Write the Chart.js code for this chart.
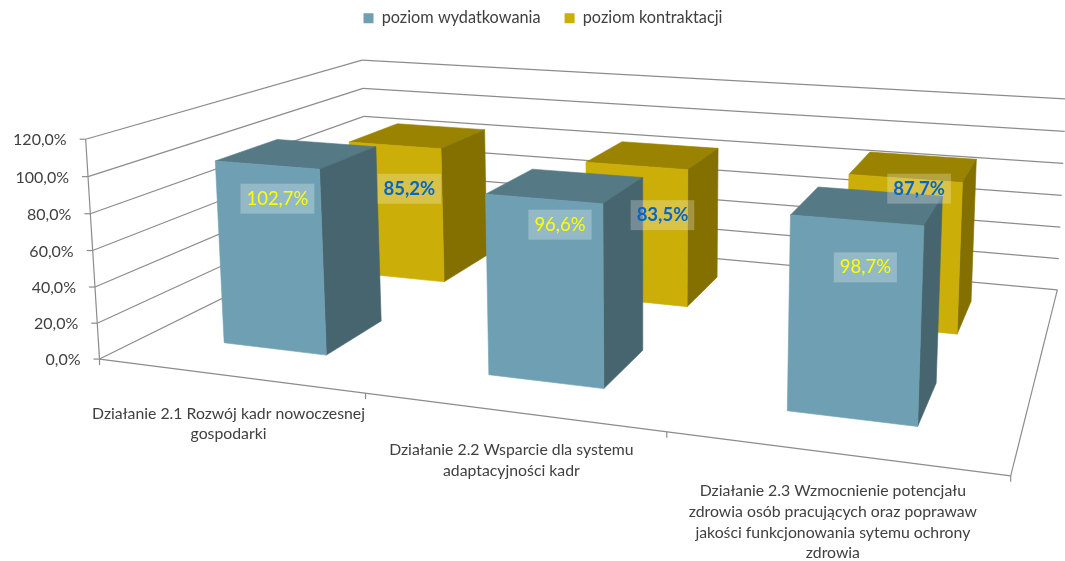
<!DOCTYPE html>
<html>
<head>
<meta charset="utf-8">
<style>
  html, body { margin: 0; padding: 0; background: #ffffff; }
  canvas { display: block; }
</style>
<script src="https://cdn.jsdelivr.net/npm/chart.js@4"></script>
</head>
<body>
<canvas id="chart" width="1065" height="561"></canvas>
<script>
const categories = [
  ["Działanie 2.1 Rozwój kadr nowoczesnej", "gospodarki"],
  ["Działanie 2.2 Wsparcie dla systemu", "adaptacyjności kadr"],
  ["Działanie 2.3 Wzmocnienie potencjału", "zdrowia osób pracujących oraz poprawaw", "jakości funkcjonowania sytemu ochrony", "zdrowia"],
];
const wydatkowanie = [102.7, 96.6, 98.7];
const kontraktacja = [85.2, 83.5, 87.7];

const FONT = "Lato, Carlito, sans-serif";
const GRID = "#8c8c8c";
const TEXT = "#404040";

// camera fit: box corners [u, v, w], where they land on screen, fit weight
const cameraAnchors = [
  [0, 0, 0, 101, 357, 1], [0, 1, 0, 83.5, 137, 1],
  [0, 0, 1, 365, 230, 1], [0, 1, 1, 365, 60, 1],
  [1, 0, 1, 1060, 289, 1], [1, 1, 1, 1063, 96, 1],
  [1, 0, 0, 1009, 474, 1], [1, 1, 0, 1027, 226, 0.7],
];

function solveCamera(anchors) {
  const rows = [];
  anchors.forEach(([u, v, w, sx, sy, k]) => {
    rows.push([u, v, w, 1, 0, 0, 0, 0, -sx * u, -sx * v, -sx * w, sx].map((c) => c * k));
    rows.push([0, 0, 0, 0, u, v, w, 1, -sy * u, -sy * v, -sy * w, sy].map((c) => c * k));
  });
  const n = 11;
  const m = [];
  for (let i = 0; i < n; i++) {
    m.push(new Array(n + 1).fill(0));
    for (let j = 0; j <= n; j++) {
      rows.forEach((r) => { m[i][j] += r[i] * r[j]; });
    }
  }
  for (let i = 0; i < n; i++) {
    let best = i;
    for (let k = i + 1; k < n; k++) {
      if (Math.abs(m[k][i]) > Math.abs(m[best][i])) best = k;
    }
    [m[i], m[best]] = [m[best], m[i]];
    for (let k = 0; k < n; k++) {
      if (k === i) continue;
      const f = m[k][i] / m[i][i];
      for (let j = i; j <= n; j++) m[k][j] -= f * m[i][j];
    }
  }
  return m.map((r, i) => r[n] / r[i]);
}

const cam = solveCamera(cameraAnchors);

function project(u, v, w) {
  const d = cam[8] * u + cam[9] * v + cam[10] * w + 1;
  return {
    x: (cam[0] * u + cam[1] * v + cam[2] * w + cam[3]) / d,
    y: (cam[4] * u + cam[5] * v + cam[6] * w + cam[7]) / d,
  };
}

function line(ctx, a, b) {
  ctx.beginPath();
  ctx.moveTo(a.x, a.y);
  ctx.lineTo(b.x, b.y);
  ctx.stroke();
}

function quad(ctx, pts, color) {
  ctx.fillStyle = color;
  ctx.strokeStyle = color;
  ctx.lineWidth = 0.6;
  ctx.beginPath();
  pts.forEach((p, i) => (i ? ctx.lineTo(p.x, p.y) : ctx.moveTo(p.x, p.y)));
  ctx.closePath();
  ctx.fill();
  ctx.stroke();
}

const seriesFaces = [
  { front: "#6e9fb2", top: "#557985", side: "#47656f", label: "#ffff00", weight: "400", depth: [0.15, 0.36] },
  { front: "#cbae07", top: "#9a8300", side: "#837000", label: "#0066cc", weight: "700", depth: [0.64, 0.86] },
];
// hand-moved data labels, px from the top centre of each bar
const labelOffsets = [
  [[-20, 45], [-6, 39], [-3, 62]],
  [[-9, 53], [9, 60], [5, 22]],
];

const box3d = {
  id: "box3d",
  beforeDatasetsDraw(chart) {
    const ctx = chart.ctx;
    const xs = chart.scales.x;
    const ys = chart.scales.y;
    const toV = (val) => (ys.bottom - ys.getPixelForValue(val)) / ys.height;
    const toU = (px) => (px - xs.left) / xs.width;

    ctx.save();
    ctx.strokeStyle = GRID;
    ctx.lineWidth = 1.2;
    ctx.lineJoin = "round";

    // walls + floor
    ys.ticks.forEach((t) => {
      const v = toV(t.value);
      const a = project(0, v, 0);
      const b = project(0, v, 1);
      const c = project(1, v, 1);
      line(ctx, a, b);
      line(ctx, b, c);
      line(ctx, { x: a.x - 6, y: a.y }, a);
      ctx.fillStyle = TEXT;
      ctx.font = "16px " + FONT;
      ctx.textAlign = "right";
      ctx.textBaseline = "middle";
      ctx.fillText(t.value.toFixed(1).replace(".", ",") + "%", a.x - 19, a.y + 1);
    });
    line(ctx, project(0, 0, 0), project(0, 1, 0));
    line(ctx, project(0, 0, 0), project(1, 0, 0));
    line(ctx, project(1, 0, 0), project(1, 0, 1));

    // category ticks + labels
    const n = xs.getLabels().length;
    for (let i = 0; i <= n; i++) {
      const p = project(i / n, 0, 0);
      line(ctx, p, { x: p.x, y: p.y + 6 });
    }
    ctx.fillStyle = TEXT;
    ctx.font = "15.8px " + FONT;
    ctx.textAlign = "center";
    xs.getLabels().forEach((lab, i) => {
      const p = project(toU(xs.getPixelForValue(i)), 0, 0);
      lab.forEach((txt, k) => ctx.fillText(txt, p.x, p.y + 38 + k * 20.7));
    });

    // bars, back row first
    const labels = [];
    for (let d = chart.data.datasets.length - 1; d >= 0; d--) {
      const face = seriesFaces[d];
      const [w0, w1] = face.depth;
      chart.getDatasetMeta(d).data.forEach((el, i) => {
        const u0 = toU(el.x - el.width / 2);
        const u1 = toU(el.x + el.width / 2);
        const v = (ys.bottom - el.y) / ys.height;
        quad(ctx, [project(u0, v, w0), project(u1, v, w0), project(u1, v, w1), project(u0, v, w1)], face.top);
        quad(ctx, [project(u1, 0, w0), project(u1, v, w0), project(u1, v, w1), project(u1, 0, w1)], face.side);
        quad(ctx, [project(u0, 0, w0), project(u1, 0, w0), project(u1, v, w0), project(u0, v, w0)], face.front);
        const c = project((u0 + u1) / 2, v, (w0 + w1) / 2);
        labels.push({
          x: c.x + labelOffsets[d][i][0],
          y: c.y + labelOffsets[d][i][1],
          text: chart.data.datasets[d].data[i].toFixed(1).replace(".", ",") + "%",
          color: face.label,
          weight: face.weight,
        });
      });
    }

    ctx.textAlign = "center";
    ctx.textBaseline = "middle";
    labels.forEach((l) => {
      ctx.font = l.weight + " 18.5px " + FONT;
      const tw = ctx.measureText(l.text).width;
      ctx.fillStyle = "rgba(255,255,255,0.26)";
      ctx.fillRect(l.x - tw / 2 - 6, l.y - 15, tw + 12, 30);
      ctx.fillStyle = l.color;
      ctx.fillText(l.text, l.x, l.y);
    });
    ctx.restore();
    return false;
  },
};

new Chart(document.getElementById("chart"), {
  type: "bar",
  data: {
    labels: categories,
    datasets: [
      { label: "poziom wydatkowania", data: wydatkowanie, backgroundColor: "#6e9fb2", borderWidth: 0 },
      { label: "poziom kontraktacji", data: kontraktacja, backgroundColor: "#cbae07", borderWidth: 0 },
    ],
  },
  options: {
    responsive: false,
    animation: false,
    layout: { padding: { left: 21, top: -14 } },
    datasets: { bar: { grouped: false, categoryPercentage: 1, barPercentage: 0.4 } },
    plugins: {
      legend: {
        position: "top",
        labels: {
          boxWidth: 10,
          boxHeight: 10,
          padding: 24,
          color: TEXT,
          font: { family: FONT, size: 16.3 },
        },
      },
      tooltip: { enabled: false },
    },
    scales: {
      x: { display: false },
      y: { display: false, min: 0, max: 120, ticks: { stepSize: 20 } },
    },
  },
  plugins: [box3d],
});
</script>
</body>
</html>
